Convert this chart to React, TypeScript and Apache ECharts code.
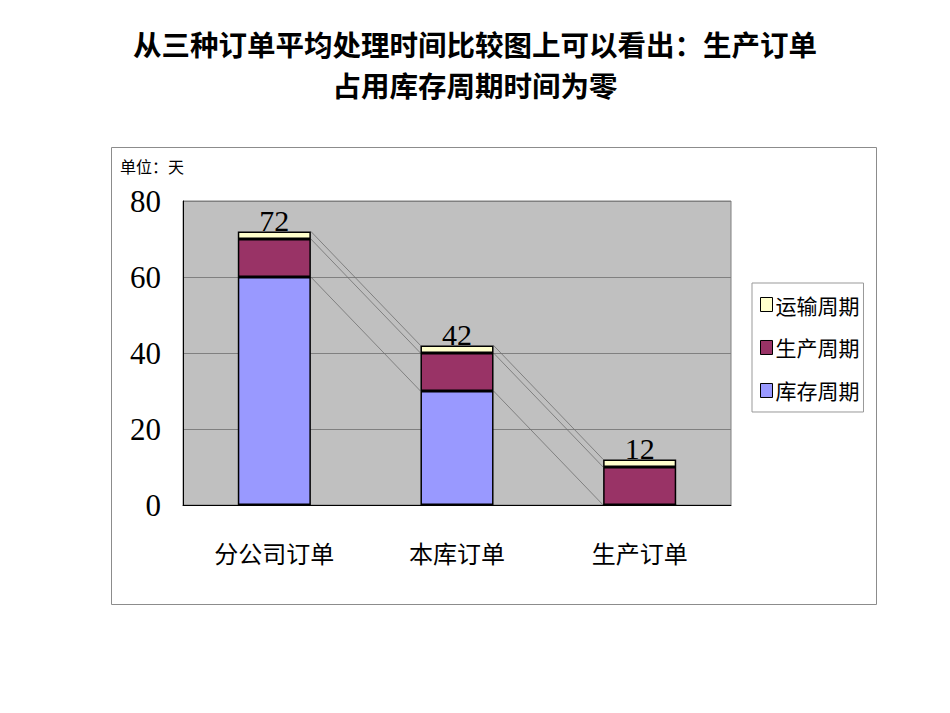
import { useEffect, useRef } from "react";
import * as echarts from "echarts";

const categories = ["分公司订单", "本库订单", "生产订单"];
const inventoryDays = [60, 30, 0];
const productionDays = [10, 10, 10];
const transportDays = [2, 2, 2];
const yTicks = [0, 20, 40, 60, 80];
const titleLines = ["从三种订单平均处理时间比较图上可以看出：生产订单", "占用库存周期时间为零"];

const CJK = "'Noto Sans CJK SC', sans-serif";
const SERIF = "'Liberation Serif', serif";

export default function App() {
  const chartRef = useRef<HTMLDivElement>(null);

  useEffect(() => {
    if (!chartRef.current) return;
    const chart = echarts.init(chartRef.current, null, { renderer: "svg" });

    const level1 = inventoryDays;
    const level2 = inventoryDays.map((v, i) => v + productionDays[i]);
    const level3 = level2.map((v, i) => v + transportDays[i]);

    // series lines between neighbouring bars
    const seriesLines: number[][] = [];
    [level1, level2, level3].forEach((lvl) => {
      for (let i = 0; i < lvl.length - 1; i++) {
        seriesLines.push([i, lvl[i], lvl[i + 1]]);
      }
    });

    const barBorder = { borderColor: "#000", borderWidth: 1.5 };
    const titleStyle = {
      fontFamily: CJK,
      fontSize: 28.5,
      lineHeight: 32,
      fontWeight: "bold",
      color: "#000",
    };

    chart.setOption({
      animation: false,
      title: [
        { text: titleLines[0], left: "center", top: 27, padding: 0, textStyle: titleStyle },
        { text: titleLines[1], left: "center", top: 68, padding: 0, textStyle: titleStyle },
      ],
      graphic: [
        {
          type: "rect",
          shape: { x: 111.5, y: 147.5, width: 765, height: 457 },
          style: { fill: "#fff", stroke: "#8c8c8c", lineWidth: 1 },
          z: -10,
        },
        {
          type: "text",
          x: 120,
          y: 158,
          style: { text: "单位：天", fontFamily: CJK, fontSize: 16, fill: "#000" },
        },
      ],
      legend: {
        orient: "vertical",
        left: 752,
        top: 283,
        data: ["运输周期", "生产周期", "库存周期"],
        icon: "rect",
        itemWidth: 12,
        itemHeight: 14,
        itemGap: 22,
        padding: [11, 4, 11, 8],
        borderColor: "#999",
        borderWidth: 1,
        backgroundColor: "#fff",
        itemStyle: { borderColor: "#000", borderWidth: 1 },
        textStyle: { fontFamily: CJK, fontSize: 21, color: "#000", padding: [0, 0, 0, -2] },
      },
      grid: {
        left: 183,
        top: 201,
        right: 219,
        bottom: 208,
        show: true,
        backgroundColor: "#C0C0C0",
        borderColor: "#808080",
        borderWidth: 1,
      },
      xAxis: {
        type: "category",
        data: categories,
        axisLine: { lineStyle: { color: "#000", width: 1 } },
        axisTick: { inside: true, length: 6, lineStyle: { color: "#555" } },
        axisLabel: { fontFamily: CJK, fontSize: 24, color: "#000", margin: 35 },
      },
      yAxis: {
        type: "value",
        min: yTicks[0],
        max: yTicks[yTicks.length - 1],
        interval: 20,
        axisLine: { show: true, lineStyle: { color: "#000", width: 1 } },
        axisTick: { show: false },
        splitLine: { lineStyle: { color: "#808080", width: 1 } },
        axisLabel: { fontFamily: SERIF, fontSize: 31, color: "#000", margin: 22 },
      },
      series: [
        {
          name: "库存周期",
          type: "bar",
          stack: "total",
          barWidth: "40%",
          data: inventoryDays,
          itemStyle: { color: "#9999FF", ...barBorder },
        },
        {
          name: "生产周期",
          type: "bar",
          stack: "total",
          barWidth: "40%",
          data: productionDays,
          itemStyle: { color: "#993366", ...barBorder },
        },
        {
          name: "运输周期",
          type: "bar",
          stack: "total",
          barWidth: "40%",
          data: transportDays,
          itemStyle: { color: "#FFFFCC", ...barBorder },
          label: {
            show: true,
            position: "top",
            distance: -4,
            fontFamily: SERIF,
            fontSize: 30,
            color: "#000",
            formatter: (p: { dataIndex: number }) => String(level3[p.dataIndex]),
          },
        },
        {
          type: "custom",
          name: "seriesLines",
          data: seriesLines,
          encode: { x: 0, y: 1 },
          silent: true,
          z: 1,
          renderItem: (_params: unknown, api: any) => {
            const i = api.value(0);
            const a = api.coord([i, api.value(1)]);
            const b = api.coord([i + 1, api.value(2)]);
            const half = api.size([1, 0])[0] * 0.2;
            return {
              type: "line",
              shape: { x1: a[0] + half, y1: a[1], x2: b[0] - half, y2: b[1] },
              style: { stroke: "#707070", lineWidth: 0.8 },
            };
          },
        },
      ],
    });

    return () => chart.dispose();
  }, []);

  return (
    <div
      ref={chartRef}
      style={{ position: "fixed", left: 0, top: 0, width: 950, height: 713, background: "#fff" }}
    />
  );
}
